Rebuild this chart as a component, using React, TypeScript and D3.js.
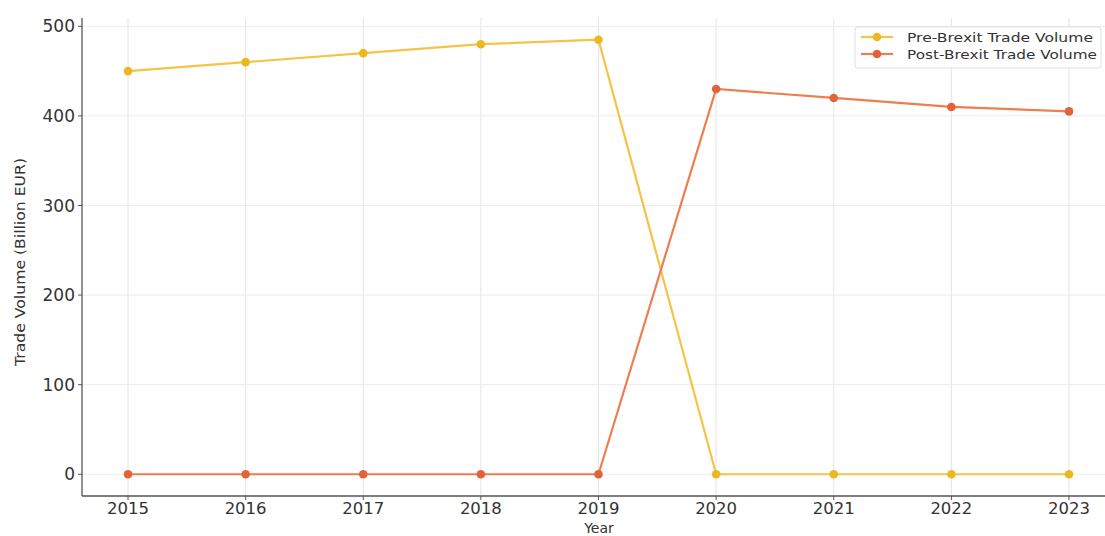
import React from "react";
import * as d3 from "d3";

const years = [2015, 2016, 2017, 2018, 2019, 2020, 2021, 2022, 2023];
const preBrexit = [450, 460, 470, 480, 485, 0, 0, 0, 0];
const postBrexit = [0, 0, 0, 0, 0, 430, 420, 410, 405];
const yTicks = [0, 100, 200, 300, 400, 500];
const seriesNames = ["Pre-Brexit Trade Volume", "Post-Brexit Trade Volume"];

const W = 1105;
const H = 536;
const left = 82;
const top = 18;
const bottom = 496;

const preLine = "#f4c445";
const preMarker = "#ebb821";
const postLine = "#ee7e50";
const postMarker = "#e2633a";

export default function App() {
  const x = d3.scaleLinear().domain([2015, 2023]).range([128, 1069]);
  const y = d3.scaleLinear().domain([-24.25, 509.25]).range([bottom, top]);
  const line = d3
    .line<number>()
    .x((_, i) => x(years[i]))
    .y((d) => y(d));
  const series = [
    { name: seriesNames[0], values: preBrexit, lc: preLine, mc: preMarker },
    { name: seriesNames[1], values: postBrexit, lc: postLine, mc: postMarker },
  ];
  const font = "DejaVu Sans, sans-serif";
  return (
    <svg
      width={W}
      height={H}
      style={{ position: "absolute", left: 0, top: 0, background: "#fff" }}
      fontFamily={font}
    >
      {/* grid */}
      {years.map((yr) => (
        <line key={"gx" + yr} x1={x(yr)} x2={x(yr)} y1={top} y2={bottom} stroke="#e4e4e4" strokeWidth={1} />
      ))}
      {yTicks.map((t) => (
        <line key={"gy" + t} x1={left} x2={W} y1={y(t)} y2={y(t)} stroke="#ececec" strokeWidth={1} />
      ))}
      {/* series */}
      {series.map((s) => (
        <g key={s.name}>
          <path d={line(s.values) || ""} fill="none" stroke={s.lc} strokeWidth={2.2} />
          {s.values.map((v, i) => (
            <circle key={i} cx={x(years[i])} cy={y(v)} r={4.3} fill={s.mc} />
          ))}
        </g>
      ))}
      {/* axes */}
      <line x1={left} x2={left} y1={top} y2={bottom} stroke="#555" strokeWidth={1.3} />
      <line x1={left} x2={W} y1={bottom} y2={bottom} stroke="#555" strokeWidth={1.3} />
      {yTicks.map((t) => (
        <g key={"yt" + t}>
          <line x1={left - 4} x2={left} y1={y(t)} y2={y(t)} stroke="#555" />
          <text x={left - 7} y={y(t)} dy="0.36em" textAnchor="end" fontSize={17} fill="#333">
            {t}
          </text>
        </g>
      ))}
      {years.map((yr) => (
        <g key={"xt" + yr}>
          <line x1={x(yr)} x2={x(yr)} y1={bottom} y2={bottom + 4} stroke="#555" />
          <text x={x(yr)} y={bottom + 18} textAnchor="middle" fontSize={16.5} fill="#333">
            {yr}
          </text>
        </g>
      ))}
      <text x={599} y={533} textAnchor="middle" fontSize={14} fill="#333">
        Year
      </text>
      <text
        transform={`translate(25,${262}) rotate(-90)`}
        textAnchor="middle"
        fontSize={14}
        textLength={208}
        lengthAdjust="spacingAndGlyphs"
        fill="#333"
      >
        Trade Volume (Billion EUR)
      </text>
      {/* legend */}
      <rect x={855} y={27} width={246} height={41} fill="#fff" fillOpacity={0.85} stroke="#e0e0e0" rx={3} />
      {series.map((s, i) => (
        <g key={"lg" + i} transform={`translate(0,${37 + i * 17})`}>
          <line x1={861} x2={893} y1={0} y2={0} stroke={s.lc} strokeWidth={2.2} />
          <circle cx={877} cy={0} r={4.3} fill={s.mc} />
          <text
            x={907}
            y={0}
            dy="0.36em"
            fontSize={13}
            textLength={i === 0 ? 186 : 190}
            lengthAdjust="spacingAndGlyphs"
            fill="#333"
          >
            {s.name}
          </text>
        </g>
      ))}
    </svg>
  );
}
